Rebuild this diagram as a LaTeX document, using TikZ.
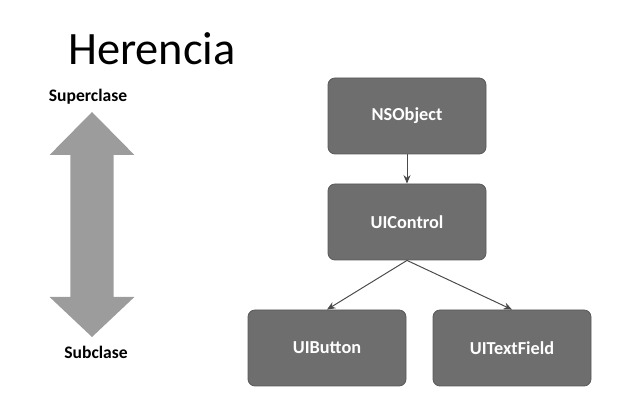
\documentclass[tikz,border=0pt]{standalone}
\usepackage{fontspec}
\setmainfont{Carlito}
\usepackage{xcolor}
\usetikzlibrary{arrows.meta,positioning,calc}

\definecolor{boxgray}{HTML}{6E6E6E}
\definecolor{boxline}{HTML}{5A5A5A}
\definecolor{arrowgray}{HTML}{9C9C9C}
\definecolor{linkgray}{HTML}{4A4A4A}

\tikzset{
  classbox/.style={rectangle, rounded corners=5pt, fill=boxgray, draw=boxline,
    line width=0.6pt, minimum width=3.95cm, minimum height=1.9cm,
    text=white, font=\fontsize{13}{15}\selectfont\bfseries},
  inherit/.style={draw=linkgray, line width=0.7pt, -{Stealth[length=6pt,width=5pt]}},
  sidelabel/.style={font=\fontsize{12.5}{14}\selectfont\bfseries, text=black}
}

\begin{document}
\begin{tikzpicture}
  \useasboundingbox (0,0) rectangle (16.1,10.425);
  % Title
  \node[font=\fontsize{33}{38}\selectfont] (title) at (3.8,9.2) {Herencia};
  % Double arrow on the left
  \fill[arrowgray] (2.3,7.625) -- (3.36,6.55) -- (2.84,6.55) -- (2.84,3.0)
    -- (3.36,3.0) -- (2.3,2.0) -- (1.24,3.0) -- (1.76,3.0) -- (1.76,6.55)
    -- (1.24,6.55) -- cycle;
  \node[sidelabel] (super) at (2.2,8.0)  {Superclase};
  \node[sidelabel] (sub)   at (2.4,1.62) {Subclase};
  % Class boxes
  \node[classbox] (nsobject)  at (10.175,7.525) {NSObject};
  \node[classbox] (uicontrol) at (10.175,4.875) {UIControl};
  \node[classbox] (uibutton)  at (8.175,1.725)  {UIButton};
  \node[classbox] (uitext)    at (12.8,1.725)   {UITextField};
  % Links
  \draw[inherit] (nsobject) -- (uicontrol);
  \draw[inherit] (uicontrol.south) -- (uibutton.north);
  \draw[inherit] (uicontrol.south) -- (uitext.north);
\end{tikzpicture}
\end{document}
